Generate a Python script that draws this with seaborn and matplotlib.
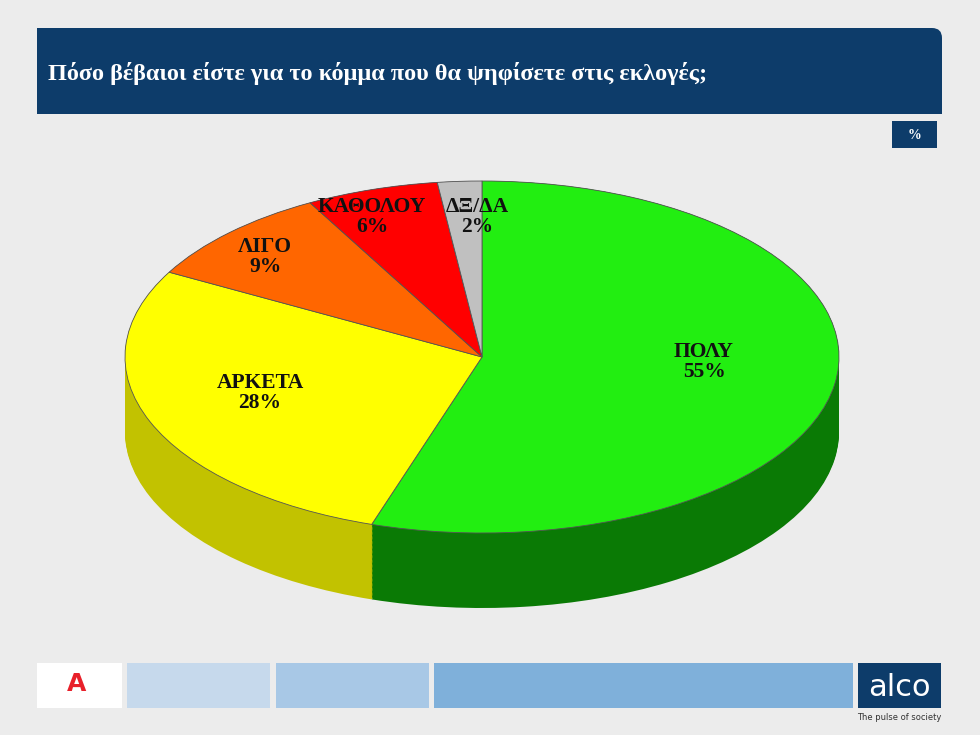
import matplotlib
matplotlib.use("Agg")
import matplotlib.pyplot as plt
import seaborn as sns
import numpy as np
from matplotlib.patches import FancyBboxPatch, Rectangle

sns.set_theme(style="white")
plt.rcParams['font.family'] = ['Liberation Serif', 'DejaVu Serif']

categories = ["ΠΟΛΥ", "ΑΡΚΕΤΑ", "ΛΙΓΟ", "ΚΑΘΟΛΟΥ", "ΔΞ/ΔΑ"]
values = [55, 28, 9, 6, 2]
colors = ["#22ee11", "#ffff00", "#ff6600", "#ff0000", "#c0c0c0"]
side_colors = ["#0a7a05", "#c2c200", "#b04600", "#a00000", "#888888"]
label_px = [(704, 362), (260, 393), (265, 257), (372, 217), (477, 217)]

W, H = 980, 735
fig = plt.figure(figsize=(9.8, 7.35), dpi=100)
fig.patch.set_facecolor("#ececec")

def px(x0, y0, x1, y1):
    return [x0 / W, 1 - y1 / H, (x1 - x0) / W, (y1 - y0) / H]

bg = fig.add_axes([0, 0, 1, 1]); bg.set_xlim(0, W); bg.set_ylim(H, 0); bg.axis("off")
bg.add_patch(FancyBboxPatch((37, 28), 905, 86, boxstyle="round,pad=0,rounding_size=10", fc="#0d3c6a", ec="none"))
bg.add_patch(Rectangle((37, 28), 20, 86, fc="#0d3c6a", ec="none"))
bg.add_patch(Rectangle((37, 95), 905, 19, fc="#0d3c6a", ec="none"))
bg.text(48, 73, "Πόσο βέβαιοι είστε για το κόμμα που θα ψηφίσετε στις εκλογές;", color="white",
        fontsize=17.5, fontweight="bold", va="center")
bg.add_patch(Rectangle((892, 121), 45, 27, fc="#0d3c6a", ec="none"))
bg.text(914.5, 135, "%", color="white", fontsize=10, fontweight="bold", ha="center", va="center")
bg.add_patch(Rectangle((37, 663), 85, 45, fc="white", ec="none"))
bg.add_patch(Rectangle((127, 663), 143, 45, fc="#c6d9ec", ec="none"))
bg.add_patch(Rectangle((276, 663), 153, 45, fc="#a8c8e6", ec="none"))
bg.add_patch(Rectangle((434, 663), 419, 45, fc="#7fb0da", ec="none"))
bg.add_patch(Rectangle((858, 663), 83, 45, fc="#0d3c6a", ec="none"))
bg.text(899, 688, "alco", color="white", fontsize=22, ha="center", va="center", family="DejaVu Sans")
bg.text(899, 717, "The pulse of society", color="#333333", fontsize=6, ha="center", va="center", family="DejaVu Sans")
bg.text(77, 684, "A", color="#e8202a", fontsize=18, fontweight="bold", ha="center", va="center", family="DejaVu Sans")

rx0, rx1, top, bot_top, bot = 125, 839, 181, 533, 608
ry = (bot_top - top) / 2
depth = (bot - bot_top) / ry
ax = fig.add_axes(px(rx0, top, rx1, bot))
for d in np.linspace(depth, 0, 60):
    ax.pie(values, colors=side_colors, startangle=90, counterclock=False, center=(0, -d),
           wedgeprops=dict(linewidth=0))
ax.pie(values, colors=colors, startangle=90, counterclock=False,
       wedgeprops=dict(linewidth=0.6, edgecolor="#555555"))
ax.set_aspect("auto")
ax.set_xlim(-1, 1); ax.set_ylim(-1 - depth, 1)
cx, cy = (rx0 + rx1) / 2, top + ry
rxp = (rx1 - rx0) / 2
for (lx, ly), c, v in zip(label_px, categories, values):
    ax.text((lx - cx) / rxp, -(ly - cy) / ry, f"{c}\n{v}%", ha="center", va="center",
            fontsize=15.5, fontweight="bold", color="#111111", linespacing=1.0)

fig.savefig("out.png", dpi=100, facecolor=fig.get_facecolor())
